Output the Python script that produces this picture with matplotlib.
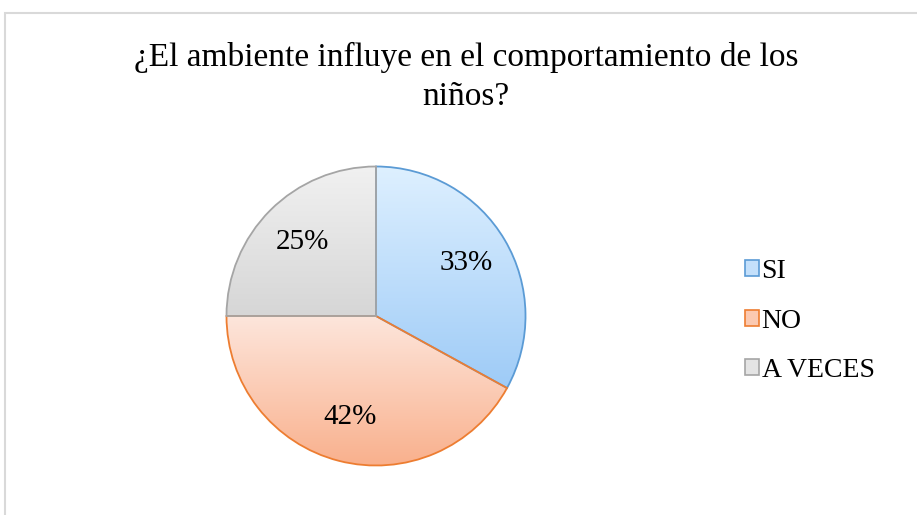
import numpy as np
import matplotlib.pyplot as plt
from matplotlib.patches import Rectangle
from matplotlib.colors import LinearSegmentedColormap

labels = ['SI', 'NO', 'A VECES']
values = [33, 42, 25]
edge_colors = ['#5b9bd5', '#ed7d31', '#a5a5a5']
top_colors = ['#def0ff', '#fde6dc', '#f1f1f1']
bottom_colors = ['#9ecbf7', '#f9af8b', '#d6d6d6']

plt.rcParams['font.family'] = ['Liberation Serif', 'DejaVu Serif']

W, H = 917, 515
fig = plt.figure(figsize=(W / 100, H / 100), dpi=100)

# chart area frame (runs off the right/bottom edge in the original)
fig.patches.append(Rectangle((5 / W, -0.1), 1.2, 1 - 13 / H + 0.1,
                             transform=fig.transFigure, fill=False,
                             edgecolor='#d9d9d9', linewidth=1.5))

fig.text(466 / W, 1 - 77 / H, '¿El ambiente influye en el comportamiento de los\nniños?',
         ha='center', va='center', fontsize=24, linespacing=1.35)

# pie axes: center (376, 316), radius ~151 px
ax = fig.add_axes([(376 - 151) / W, (H - 316 - 151) / H, 302 / W, 302 / H])
wedges, texts, autotexts = ax.pie(values, startangle=90, counterclock=False,
                                  autopct='%1.0f%%', pctdistance=0.7,
                                  colors=top_colors, radius=1,
                                  wedgeprops=dict(linewidth=1.3),
                                  textprops=dict(fontsize=21))

grad = np.linspace(0, 1, 256).reshape(-1, 1)
for w, ec, tc, bc in zip(wedges, edge_colors, top_colors, bottom_colors):
    w.set_edgecolor(ec)
    w.set_facecolor('none')
    verts = w.get_patch_transform().transform(w.get_path().vertices)
    x0, x1 = verts[:, 0].min(), verts[:, 0].max()
    y0, y1 = verts[:, 1].min(), verts[:, 1].max()
    cmap = LinearSegmentedColormap.from_list('g', [tc, bc])
    im = ax.imshow(grad, cmap=cmap, extent=[x0, x1, y0, y1], aspect='auto',
                   origin='upper', zorder=0.5)
    im.set_clip_path(w)
    w.set_zorder(1)

for t in autotexts:
    t.set_zorder(3)

ax.set_xlim(-1.01, 1.01)
ax.set_ylim(-1.01, 1.01)
ax.set_aspect('equal')
ax.axis('off')

handles = [Rectangle((0, 0), 1, 1, facecolor=bc, edgecolor=ec, linewidth=1.2)
           for ec, bc in zip(edge_colors, ['#c4e0fb', '#fbc9b1', '#e4e4e4'])]
fig.legend(handles, labels, loc='center left', bbox_to_anchor=(731 / W, 1 - 321 / H),
           frameon=False, fontsize=20, handlelength=0.5, handleheight=0.5,
           handletextpad=0.1, labelspacing=0.88, borderpad=0)

fig.savefig('out.png', dpi=100)
